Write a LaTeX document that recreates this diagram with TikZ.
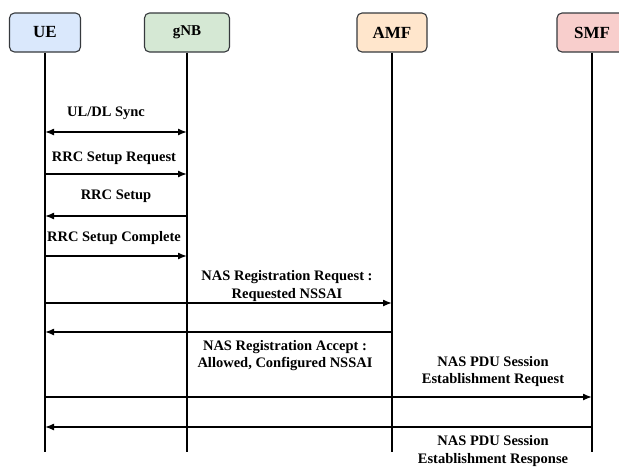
\documentclass[tikz,border=0pt]{standalone}
\usepackage{fontspec}
\setmainfont{Liberation Serif}
\usetikzlibrary{arrows.meta}
\definecolor{uefill}{HTML}{DAE8FC}
\definecolor{gnbfill}{HTML}{D5E8D4}
\definecolor{amffill}{HTML}{FFE6CC}
\definecolor{smffill}{HTML}{F8CECC}
\definecolor{edge}{HTML}{36393D}
\tikzstyle{entity}=[draw=edge, line width=1.1pt, rounded corners=5pt, minimum height=39pt, inner sep=0pt, font=\fontsize{17}{20}\selectfont\bfseries]
\tikzstyle{lifeline}=[line width=1.4pt]
\tikzstyle{message}=[line width=1.4pt, -{Latex[length=9pt, width=7pt]}]
\tikzstyle{msglabel}=[align=center, inner sep=0pt, font=\fontsize{14.5}{17.5}\selectfont\bfseries]

\begin{document}
\begin{tikzpicture}[x=1pt, y=-1pt]
      \useasboundingbox (0, 0) rectangle (619, 467);

      \node[entity, fill=uefill, minimum width=71pt] (ue) at (45, 32.5) {UE};
      \node[entity, fill=gnbfill, minimum width=85pt, font=\fontsize{15}{18}\selectfont\bfseries] (gnb) at (187, 32.5) {gNB};
      \node[entity, fill=amffill, minimum width=70pt] (amf) at (392, 32.5) {AMF};
      \node[entity, fill=smffill, minimum width=70pt] (smf) at (592, 32.5) {SMF};

      \coordinate (bottom) at (0, 452);
      \draw[lifeline] (ue.south) -- (ue |- bottom);
      \draw[lifeline] (gnb.south) -- (gnb |- bottom);
      \draw[lifeline] (amf.south) -- (amf |- bottom);
      \draw[lifeline] (smf.south) -- (smf |- bottom);

      % message heights
      \coordinate (sync) at (0, 132);
      \coordinate (rrcreq) at (0, 174);
      \coordinate (rrcset) at (0, 216);
      \coordinate (rrccpl) at (0, 256);
      \coordinate (regreq) at (0, 303);
      \coordinate (regacc) at (0, 332);
      \coordinate (pdureq) at (0, 397);
      \coordinate (pdursp) at (0, 427);

      \draw[message, {Latex[length=9pt, width=7pt]}-{Latex[length=9pt, width=7pt]}] (ue |- sync) -- (gnb |- sync);
      \draw[message] (ue |- rrcreq) -- (gnb |- rrcreq);
      \draw[message] (gnb |- rrcset) -- (ue |- rrcset);
      \draw[message] (ue |- rrccpl) -- (gnb |- rrccpl);
      \draw[message] (ue |- regreq) -- (amf |- regreq);
      \draw[message] (amf |- regacc) -- (ue |- regacc);
      \draw[message] (ue |- pdureq) -- (smf |- pdureq);
      \draw[message] (smf |- pdursp) -- (ue |- pdursp);

      \node[msglabel] (l_sync) at (106, 113) {UL/DL Sync};
      \node[msglabel] (l_rrcreq) at (114, 158) {RRC Setup Request};
      \node[msglabel] (l_rrcset) at (116, 196) {RRC Setup};
      \node[msglabel] (l_rrccpl) at (114, 238) {RRC Setup Complete};
      \node[msglabel] (l_regreq) at (287, 286) {NAS Registration Request :\\Requested NSSAI};
      \node[msglabel] (l_regacc) at (285, 355.5) {NAS Registration Accept :\\Allowed, Configured NSSAI};
      \node[msglabel] (l_pdureq) at (493, 371.5) {NAS PDU Session\\Establishment Request};
      \node[msglabel] (l_pdursp) at (493, 451) {NAS PDU Session\\Establishment Response};
    \end{tikzpicture}
\end{document}
